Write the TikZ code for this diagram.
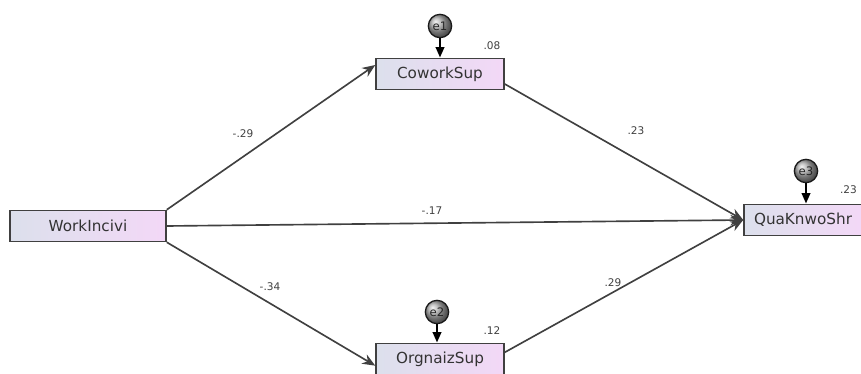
\documentclass[tikz,border=0pt]{standalone}
\usepackage{fontspec}
\setmainfont{DejaVu Sans}
\usetikzlibrary{arrows.meta}

\definecolor{boxleft}{RGB}{220,224,236}
\definecolor{boxright}{RGB}{243,216,247}

\begin{document}
\begin{tikzpicture}[x=0.03cm,y=-0.03cm,
    var/.style={draw=black!75,line width=1.3pt,left color=boxleft,right color=boxright,
        minimum height=0.93cm,inner sep=0pt,font=\fontsize{13}{15}\selectfont,text=black!80},
    err/.style={circle,draw=black!90,line width=1.1pt,ball color=gray!65,minimum size=0.7cm,
        inner sep=0pt,font=\fontsize{10}{11}\selectfont,text=black!85},
    path/.style={draw=black!75,line width=1.4pt,-{Stealth[length=11pt,width=9pt]}},
    errpath/.style={draw=black,line width=2.2pt,-{Triangle[length=9pt,width=7pt]}},
    coef/.style={font=\fontsize{9}{10}\selectfont,text=black!75}]
    \useasboundingbox (0,0) rectangle (861,374);
    \clip (0,0) rectangle (861,374);

    \node[var,minimum width=4.68cm] (work) at (88,226) {WorkIncivi};
    \node[var,minimum width=3.84cm] (cowork) at (440,74) {CoworkSup};
    \node[var,minimum width=3.84cm] (orgn) at (440,359) {OrgnaizSup};
    \node[var,minimum width=3.54cm] (qua) at (803,220) {QuaKnwoShr};

    \node[err] (e1) at (440,26) {e1};
    \node[err] (e2) at (437,312) {e2};
    \node[err] (e3) at (806,171) {e3};

    \draw[errpath] (e1) -- (cowork);
    \draw[errpath] (e2) -- (e2 |- orgn.north);
    \draw[errpath] (e3) -- (e3 |- qua.north);

    \draw[path] (work.north east) -- ([yshift=0.27cm]cowork.west);
    \draw[path] (work.east) -- (qua.west);
    \draw[path] (work.south east) -- ([yshift=-0.2cm]orgn.west);
    \draw[path] ([yshift=-0.3cm]cowork.east) -- (qua.west);
    \draw[path] ([yshift=0.2cm]orgn.east) -- (qua.west);

    \node[coef] (r1) at (492,46) {.08};
    \node[coef] (r2) at (492,331) {.12};
    \node[coef,anchor=east] (r3) at (861,190) {.23};
    \node[coef] (c1) at (243,134) {-.29};
    \node[coef] (c2) at (432,211) {-.17};
    \node[coef] (c3) at (270,287) {-.34};
    \node[coef] (c4) at (636,131) {.23};
    \node[coef] (c5) at (613,283) {.29};
\end{tikzpicture}
\end{document}
